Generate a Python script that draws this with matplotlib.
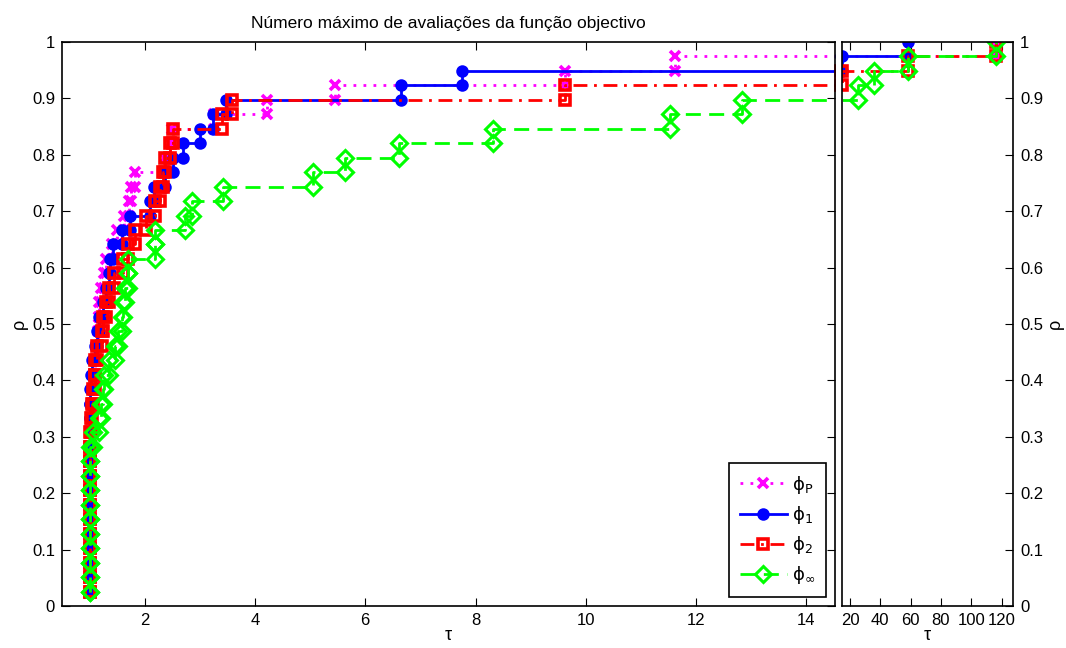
import numpy as np
import matplotlib
matplotlib.use("Agg")
import matplotlib.pyplot as plt

plt.rcParams['font.family'] = ['Liberation Sans', 'DejaVu Sans']
plt.rcParams['mathtext.fontset'] = 'dejavusans'

# Sorted performance ratios (tau at which each problem is solved), 39 problems
ratios_phiP = [1.0]*12 + [1.02, 1.04, 1.06, 1.08, 1.10, 1.12, 1.15, 1.18, 1.18, 1.20,
                          1.26, 1.29, 1.40, 1.49, 1.62, 1.71, 1.76, 1.82, 2.36, 2.45,
                          2.49, 3.25, 4.21, 5.45, 9.62, 11.62, 116.0]
ratios_phi1 = [1.0]*15 + [1.02, 1.05, 1.10, 1.14, 1.18, 1.25, 1.30, 1.35, 1.37, 1.42,
                          1.58, 1.73, 2.09, 2.16, 2.36, 2.51, 2.69, 3.00, 3.23, 3.47,
                          6.65, 7.75, 14.62, 58.0]
ratios_phi2 = [1.0]*12 + [1.02, 1.04, 1.06, 1.09, 1.10, 1.13, 1.22, 1.24, 1.30, 1.36,
                          1.45, 1.60, 1.69, 1.82, 2.02, 2.18, 2.27, 2.33, 2.36, 2.45,
                          2.51, 3.40, 3.58, 9.62, 14.62, 58.0, 116.0]
ratios_phiInf = [1.0]*11 + [1.06, 1.17, 1.21, 1.24, 1.27, 1.36, 1.46, 1.52, 1.58, 1.61,
                            1.64, 1.69, 1.69, 2.18, 2.18, 2.73, 2.85, 3.42, 5.05, 5.63,
                            6.61, 8.32, 11.53, 12.83, 25.3, 35.5, 58.0, 116.0]

labels = [r'$\mathrm{\phi}_{\mathrm{P}}$', r'$\mathrm{\phi}_{\mathrm{1}}$',
          r'$\mathrm{\phi}_{\mathrm{2}}$', r'$\mathrm{\phi}_{\infty}$']
title = 'Número máximo de avaliações da função objectivo'
left_xticks = [2, 4, 6, 8, 10, 12, 14]
right_xticks = [20, 40, 60, 80, 100, 120]
yticks = [0, 0.1, 0.2, 0.3, 0.4, 0.5, 0.6, 0.7, 0.8, 0.9, 1]
ytick_labels = ['0', '0.1', '0.2', '0.3', '0.4', '0.5', '0.6', '0.7', '0.8', '0.9', '1']

line_styles = [
    dict(color=(1, 0, 1), linestyle=(0, (1.0, 2.6))),
    dict(color=(0, 0, 1), linestyle='-'),
    dict(color=(1, 0, 0), linestyle=(0, (5.0, 2.4, 1.0, 2.4))),
    dict(color=(0, 1, 0), linestyle=(0, (5.4, 3.0))),
]
marker_styles = [
    dict(marker='x', ms=6.5, mew=2.6, mfc=(1, 0, 1), mec=(1, 0, 1)),
    dict(marker='o', ms=7.5, mew=1.5, mfc=(0, 0, 1), mec=(0, 0, 1)),
    dict(marker='s', ms=7.5, mew=2.6, mfc='none', mec=(1, 0, 0)),
    dict(marker='D', ms=8, mew=2.2, mfc='none', mec=(0, 1, 0)),
]
all_ratios = [ratios_phiP, ratios_phi1, ratios_phi2, ratios_phiInf]


def stairs(r):
    r = np.asarray(r, dtype=float)
    n = len(r)
    y = np.arange(1, n + 1) / n
    xs = np.repeat(r, 2)[1:]
    ys = np.repeat(y, 2)[:-1]
    return xs, ys


W, H = 1066, 648
fig = plt.figure(figsize=(W / 100, H / 100), dpi=100)
ax1 = fig.add_axes([62 / W, (H - 606) / H, (835 - 62) / W, 564 / H])
ax2 = fig.add_axes([842 / W, (H - 606) / H, (1013 - 842) / W, 564 / H])

handles = []
for r, ls, ms, lab in zip(all_ratios, line_styles, marker_styles, labels):
    xs, ys = stairs(r)
    ln, = ax1.plot(xs, ys, lw=2.0, label=lab, **ls, **ms)
    handles.append(ln)
    ax2.plot(xs, ys, lw=2.0, **ls)
    keep = xs >= 14.0
    ax2.plot(xs[keep], ys[keep], lw=0, linestyle='none', **ms)

for ax in (ax1, ax2):
    ax.set_ylim(0, 1)
    ax.set_yticks(yticks)
    ax.set_yticklabels(ytick_labels)
    ax.tick_params(direction='in', length=5.5, width=0.8, labelsize=12, pad=5)
    for s in ax.spines.values():
        s.set_linewidth(1.2)

ax1.set_xlim(0.5, 14.52)
ax1.set_xticks(left_xticks)
ax1.tick_params(top=True, right=True, left=True, bottom=True)
ax1.set_xlabel('τ', fontsize=13, labelpad=-1)
ax1.set_ylabel('ρ', fontsize=13, labelpad=3)
ax1.set_title(title, fontsize=12.5, pad=10)

ax2.set_xlim(14.7, 127.5)
ax2.set_xticks(right_xticks)
ax2.yaxis.tick_right()
ax2.yaxis.set_label_position('right')
ax2.tick_params(top=True, bottom=True, left=False, right=True)
ax2.set_xlabel('τ', fontsize=13, labelpad=-1)
ax2.set_ylabel('ρ', fontsize=13, labelpad=3)

leg = ax1.legend(handles=handles, loc='lower right', numpoints=1, fontsize=13,
                 handlelength=2.6, handletextpad=0.3, borderaxespad=0.5,
                 labelspacing=0.45, fancybox=False, framealpha=1, edgecolor='black',
                 borderpad=0.6)
leg.get_frame().set_linewidth(1.2)

fig.savefig('out.png', dpi=100)
